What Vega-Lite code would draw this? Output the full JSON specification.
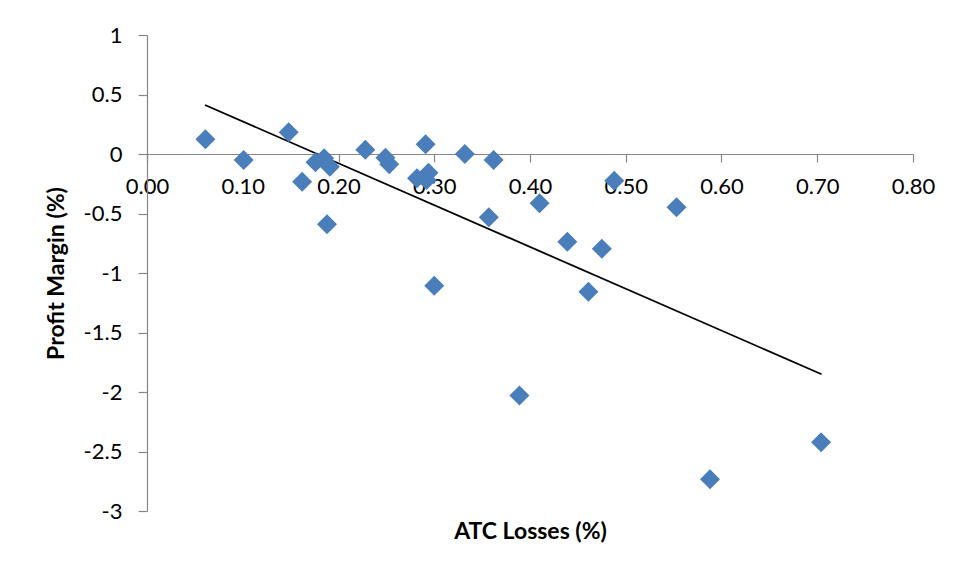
{
  "$schema": "https://vega.github.io/schema/vega-lite/v6.json",
  "width": 766,
  "height": 476,
  "autosize": "none",
  "padding": {"left": 147, "top": 35, "right": 41, "bottom": 69},
  "background": "white",
  "config": {
    "view": {"stroke": null},
    "font": "Lato",
    "axis": {"grid": false, "domainColor": "#868686", "tickColor": "#868686", "domainWidth": 1.2, "tickWidth": 1.2, "labelColor": "black", "titleColor": "black", "labelFont": "Lato", "titleFont": "Lato"}
  },
  "datasets": {
    "points": [
      {"atc": 0.061, "pm": 0.124},
      {"atc": 0.101, "pm": -0.05},
      {"atc": 0.148, "pm": 0.182},
      {"atc": 0.162, "pm": -0.233},
      {"atc": 0.176, "pm": -0.07},
      {"atc": 0.185, "pm": -0.036},
      {"atc": 0.191, "pm": -0.107},
      {"atc": 0.188, "pm": -0.59},
      {"atc": 0.228, "pm": 0.036},
      {"atc": 0.249, "pm": -0.031},
      {"atc": 0.253, "pm": -0.087},
      {"atc": 0.291, "pm": 0.081},
      {"atc": 0.282, "pm": -0.204},
      {"atc": 0.294, "pm": -0.157},
      {"atc": 0.292, "pm": -0.218},
      {"atc": 0.332, "pm": 0.0},
      {"atc": 0.362, "pm": -0.05},
      {"atc": 0.357, "pm": -0.532},
      {"atc": 0.300, "pm": -1.107},
      {"atc": 0.389, "pm": -2.03},
      {"atc": 0.410, "pm": -0.414},
      {"atc": 0.439, "pm": -0.737},
      {"atc": 0.475, "pm": -0.796},
      {"atc": 0.488, "pm": -0.224},
      {"atc": 0.553, "pm": -0.448},
      {"atc": 0.461, "pm": -1.157},
      {"atc": 0.704, "pm": -2.423},
      {"atc": 0.588, "pm": -2.734}
    ],
    "trend": [
      {"atc": 0.0606, "pm": 0.412},
      {"atc": 0.7045, "pm": -1.851}
    ]
  },
  "resolve": {"axis": {"x": "independent"}},
  "layer": [
    {
      "data": {"name": "trend"},
      "mark": {"type": "line", "color": "black", "strokeWidth": 1.8},
      "encoding": {
        "x": {"field": "atc", "type": "quantitative", "scale": {"domain": [0, 0.8], "nice": false, "zero": false},
          "axis": {"orient": "bottom", "title": null, "offset": -357, "values": [0, 0.1, 0.2, 0.3, 0.4, 0.5, 0.6, 0.7, 0.8], "format": ".2f", "labelFontSize": 22, "labelPadding": 14, "tickSize": 8, "labelFlush": false, "labelOverlap": false}},
        "y": {"field": "pm", "type": "quantitative", "scale": {"domain": [-3, 1], "nice": false, "zero": false},
          "axis": {"title": "Profit Margin (%)", "values": [-3, -2.5, -2, -1.5, -1, -0.5, 0, 0.5, 1], "labelExpr": "'' + datum.value", "labelFontSize": 22, "labelPadding": 16, "tickSize": 9, "titleFontSize": 23, "titleFontWeight": "bold", "titlePadding": 15, "labelFlush": false, "labelOverlap": false}}
      }
    },
    {
      "data": {"name": "points"},
      "mark": {"type": "point", "shape": "diamond", "filled": true, "color": "#4a7ebb", "opacity": 1, "size": 400},
      "encoding": {
        "x": {"field": "atc", "type": "quantitative",
          "axis": {"orient": "bottom", "title": "ATC Losses (%)", "labels": false, "ticks": false, "domain": false, "titleFontSize": 23, "titleFontWeight": "bold", "titlePadding": 9}},
        "y": {"field": "pm", "type": "quantitative"}
      }
    }
  ]
}
